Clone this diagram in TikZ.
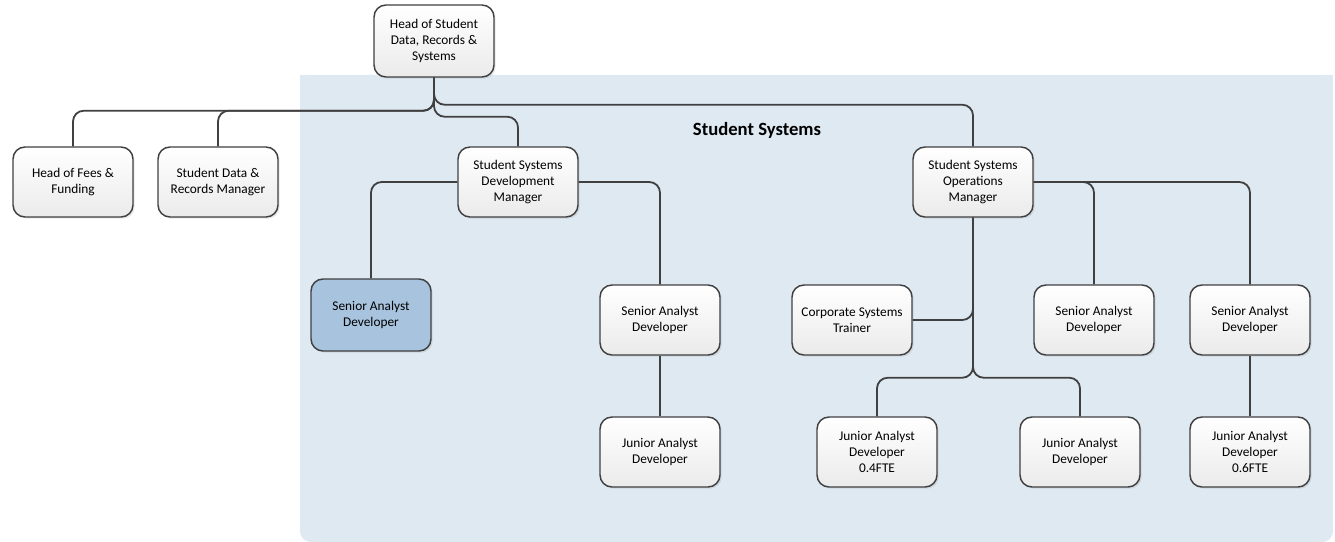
\documentclass[tikz,border=0pt]{standalone}
\usepackage{fontspec}
\setmainfont{Carlito}
\usetikzlibrary{shadows}
\definecolor{bgblue}{HTML}{DFE9F2}
\definecolor{boxblue}{HTML}{A7C3DE}
\definecolor{linec}{HTML}{404040}
\tikzset{
  box/.style={draw=linec, line width=1.1pt, rounded corners=9pt, minimum width=90pt, minimum height=52.5pt,
    inner sep=2pt, align=center, font=\fontsize{10}{12.2}\selectfont,
    top color=white, bottom color=black!8,
    drop shadow={opacity=0.18, shadow xshift=1.3pt, shadow yshift=-1.3pt}},
  bluebox/.style={box, top color=boxblue, bottom color=boxblue},
  conn/.style={draw=linec, line width=1.35pt, rounded corners=8pt},
}
\begin{document}
\begin{tikzpicture}[x=0.75pt, y=-0.75pt]
\useasboundingbox (0,0) rectangle (1335,542);
\fill[bgblue, rounded corners=8pt] (300,75) rectangle (1333,542);
\fill[bgblue] (300,75) rectangle (1333,110);
\node[font=\fontsize{14}{16}\selectfont\bfseries] (title) at (757,130) {Student Systems};

\node[box, minimum height=54pt] (head) at (434,41) {Head of Student\\Data, Records \&\\Systems};
\node[box] (hff) at (73,182) {Head of Fees \&\\Funding};
\node[box] (sdr) at (218,182) {Student Data \&\\Records Manager};
\node[box] (ssdm) at (518,182) {Student Systems\\Development\\Manager};
\node[box] (ssom) at (973,182) {Student Systems\\Operations\\Manager};
\node[bluebox, minimum height=54pt] (sad1) at (371,315) {Senior Analyst\\Developer};
\node[box] (sad2) at (660,320) {Senior Analyst\\Developer};
\node[box] (cst) at (852,320) {Corporate Systems\\Trainer};
\node[box] (sad3) at (1094,320) {Senior Analyst\\Developer};
\node[box] (sad4) at (1250,320) {Senior Analyst\\Developer};
\node[box] (jad2) at (660,452) {Junior Analyst\\Developer};
\node[box] (jad3) at (877,452) {Junior Analyst\\Developer\\0.4FTE};
\node[box] (jad4) at (1080,452) {Junior Analyst\\Developer};
\node[box] (jad5) at (1250,452) {Junior Analyst\\Developer\\0.6FTE};

\draw[conn] (head.south) -- ++(0,33) -| (hff.north);
\draw[conn] (head.south) -- ++(0,33) -| (sdr.north);
\draw[conn] (head.south) -- ++(0,27) -| (ssom.north);
\draw[conn] (head.south) -- ++(0,39) -| (ssdm.north);

\draw[conn] (ssdm.west) -| (sad1.north);
\draw[conn] (ssdm.east) -| (sad2.north);
\draw[conn] (sad2.south) -- (jad2.north);

\draw[conn] (ssom.south) |- (cst.east);
\draw[conn] (ssom.south) -- ++(0,160) -| (jad3.north);
\draw[conn] (ssom.south) -- ++(0,160) -| (jad4.north);
\draw[conn] (ssom.east) -| (sad3.north);
\draw[conn] (ssom.east) -| (sad4.north);
\draw[conn] (sad4.south) -- (jad5.north);
\end{tikzpicture}
\end{document}
